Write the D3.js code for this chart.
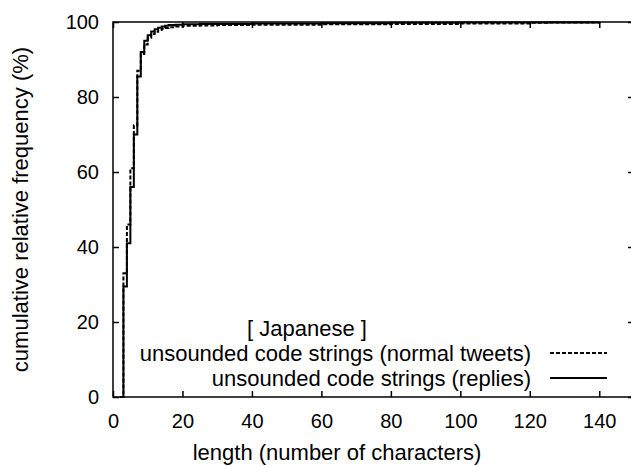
<!DOCTYPE html>
<html>
<head>
<meta charset="utf-8">
<script src="https://cdn.jsdelivr.net/npm/d3@7"></script>
<style>
  body { margin: 0; background: #fff; }
  svg text { font-family: "Liberation Sans", Arial, sans-serif; fill: #000; }
</style>
</head>
<body>
<div id="chart"></div>
<script>
// length (characters) -> cumulative relative frequency (%)
var normalLen = [2, 3, 4, 5, 6, 7, 8, 9, 10, 11, 12, 13, 14, 15, 16, 18, 20, 25, 30, 40, 60, 80, 100, 120, 125, 140];
var normalPct = [0, 33, 46, 61, 72.5, 87, 91.5, 94, 95.8, 96.8, 97.4, 97.9, 98.2, 98.4, 98.6, 98.8, 99, 99.1, 99.2, 99.3, 99.4, 99.5, 99.6, 99.8, 99.9, 100];

var replyLen = [2, 3, 4, 5, 6, 7, 8, 9, 10, 11, 12, 13, 14, 15, 16, 18, 20, 25, 40, 60, 80, 100, 120, 140];
var replyPct = [0, 29.5, 41, 56, 70, 85.5, 92, 95, 96.5, 97.5, 98.1, 98.5, 98.8, 99, 99.2, 99.3, 99.4, 99.5, 99.6, 99.7, 99.8, 99.85, 99.9, 100];

var xTicks = [0, 20, 40, 60, 80, 100, 120, 140];
var yTicks = [0, 20, 40, 60, 80, 100];

var seriesTitles = ["unsounded code strings (normal tweets)", "unsounded code strings (replies)"];
var keyTitle = "[ Japanese ]";

var W = 631, H = 466;
var plotL = 113, plotR = 634, plotT = 22, plotB = 397;

var svg = d3.select("#chart")
    .append("svg")
    .attr("width", W)
    .attr("height", H);

var x = d3.scaleLinear().domain([0, 150]).range([plotL, plotR]);
var y = d3.scaleLinear().domain([0, 100]).range([plotB, plotT]);

function toPoints(xs, ys) {
    return xs.map(function(v, i) { return [v, ys[i]]; });
}

var line = d3.line()
    .x(function(d) { return x(d[0]); })
    .y(function(d) { return y(d[1]); })
    .curve(d3.curveStepAfter);

// curves
svg.append("path")
    .attr("d", line(toPoints(normalLen, normalPct)))
    .attr("fill", "none")
    .attr("stroke", "#000")
    .attr("stroke-width", 2)
    .attr("stroke-dasharray", "4,2");

svg.append("path")
    .attr("d", line(toPoints(replyLen, replyPct)))
    .attr("fill", "none")
    .attr("stroke", "#000")
    .attr("stroke-width", 2);

// axes (gnuplot style: ticks inward, mirrored)
var tickLen = 6;
var axisFont = 20;

var xb = svg.append("g").attr("transform", "translate(0," + plotB + ")")
    .call(d3.axisBottom(x).tickValues(xTicks).tickSizeInner(-tickLen).tickSizeOuter(0).tickPadding(17));
var xt = svg.append("g").attr("transform", "translate(0," + plotT + ")")
    .call(d3.axisTop(x).tickValues(xTicks).tickSizeInner(-tickLen).tickSizeOuter(0).tickFormat(""));
var yl = svg.append("g").attr("transform", "translate(" + plotL + ",0)")
    .call(d3.axisLeft(y).tickValues(yTicks).tickSizeInner(-tickLen).tickSizeOuter(0).tickPadding(14));
var yr = svg.append("g").attr("transform", "translate(" + plotR + ",0)")
    .call(d3.axisRight(y).tickValues(yTicks).tickSizeInner(-tickLen).tickSizeOuter(0).tickFormat(""));

[xb, xt, yl, yr].forEach(function(g) {
    g.select(".domain").remove();
    g.selectAll(".tick line").attr("stroke", "#000").attr("stroke-width", 1.5);
    g.selectAll(".tick text")
        .style("font-family", "'Liberation Sans', Arial, sans-serif")
        .style("font-size", axisFont + "px");
});

svg.append("rect")
    .attr("x", plotL).attr("y", plotT)
    .attr("width", plotR - plotL).attr("height", plotB - plotT)
    .attr("fill", "none")
    .attr("stroke", "#000")
    .attr("stroke-width", 1.5);

// axis titles
svg.append("text")
    .attr("x", 337)
    .attr("y", 460)
    .attr("text-anchor", "middle")
    .style("font-size", "22px")
    .text("length (number of characters)");

svg.append("text")
    .attr("transform", "translate(28," + ((plotT + plotB) / 2) + ") rotate(-90)")
    .attr("text-anchor", "middle")
    .style("font-size", "22px")
    .text("cumulative relative frequency (%)");

// key
var keyTextX = 531, sampleX0 = 550, sampleX1 = 607;
var keyY = [353, 378];

svg.append("text")
    .attr("x", 307)
    .attr("y", 328)
    .attr("dy", "0.35em")
    .attr("text-anchor", "middle")
    .style("font-size", "22px")
    .text(keyTitle);

seriesTitles.forEach(function(t, i) {
    svg.append("text")
        .attr("x", keyTextX)
        .attr("y", keyY[i])
        .attr("dy", "0.35em")
        .attr("text-anchor", "end")
        .style("font-size", "22px")
        .text(t);
    svg.append("line")
        .attr("x1", sampleX0).attr("x2", sampleX1)
        .attr("y1", keyY[i]).attr("y2", keyY[i])
        .attr("stroke", "#000")
        .attr("stroke-width", 2)
        .attr("stroke-dasharray", i === 0 ? "4,2" : null);
});
</script>
</body>
</html>
